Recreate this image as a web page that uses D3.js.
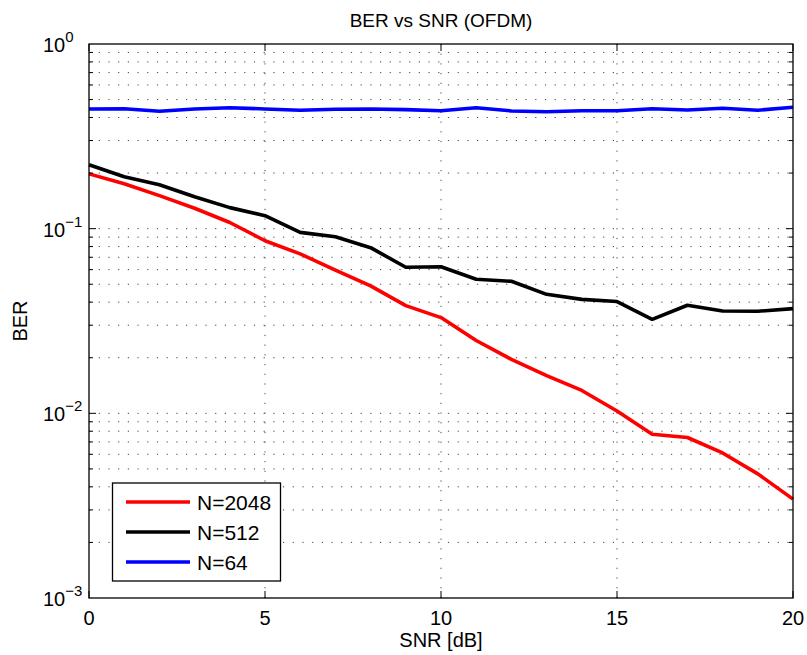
<!DOCTYPE html>
<html>
<head>
<meta charset="utf-8">
<script src="https://cdn.jsdelivr.net/npm/d3@7"></script>
<style>
  body { margin: 0; background: #fff; }
  text { font-family: "Liberation Sans", Arial, Helvetica, sans-serif; fill: #000; }
</style>
</head>
<body>
<svg id="chart" width="807" height="655"></svg>
<script>
// ---- data ----
const snr = [0,1,2,3,4,5,6,7,8,9,10,11,12,13,14,15,16,17,18,19,20];
const ber2048 = [0.198,0.175,0.151,0.129,0.108,0.086,0.073,0.0597,0.049,0.0383,0.033,0.0248,0.0196,0.0160,0.0133,0.0103,0.0077,0.0074,0.0061,0.0047,0.00343];
const ber512  = [0.222,0.191,0.173,0.149,0.130,0.1175,0.0955,0.0905,0.0789,0.0618,0.0622,0.0532,0.0519,0.0441,0.0414,0.0403,0.0323,0.0385,0.0358,0.0357,0.0369];
const ber64   = [0.445,0.446,0.432,0.445,0.452,0.445,0.438,0.443,0.445,0.441,0.435,0.452,0.434,0.430,0.435,0.435,0.446,0.439,0.449,0.438,0.454];
const seriesNames = ["N=2048","N=512","N=64"];
const seriesColors = ["#ff0000","#000000","#0000ff"];
const xTicks = [0,5,10,15,20];
const yExponents = [0,-1,-2,-3];
const titleText = "BER vs SNR (OFDM)";
const xLabel = "SNR [dB]";
const yLabel = "BER";

// ---- layout ----
const svg = d3.select("#chart");
const L = 89, R = 793, T = 44, B = 598;
const x = d3.scaleLinear().domain([0,20]).range([L,R]);
const y = d3.scaleLog().domain([1e-3,1]).range([B,T]);

// grid
const grid = svg.append("g").attr("stroke","#444").attr("stroke-width",1).attr("stroke-dasharray","1.2,8.5").attr("fill","none");
const minorVals = [];
for (let e = -3; e < 0; e++) for (let m = 1; m <= 9; m++) minorVals.push(m * Math.pow(10,e));
minorVals.filter(v => v > 1e-3).forEach(v => {
  grid.append("line").attr("x1",L).attr("x2",R).attr("y1",y(v)).attr("y2",y(v));
});
xTicks.filter(t => t > 0 && t < 20).forEach(t => {
  grid.append("line").attr("x1",x(t)).attr("x2",x(t)).attr("y1",B).attr("y2",T);
});

// series
const datasets = [ber2048, ber512, ber64];
const line = d3.line().x((d,i) => x(snr[i])).y(d => y(d));
datasets.forEach((ds,k) => {
  svg.append("path").datum(ds).attr("d",line).attr("fill","none")
    .attr("stroke",seriesColors[k]).attr("stroke-width",3.6).attr("stroke-linejoin","round");
});

// axes box and ticks
const ax = svg.append("g").attr("stroke","#000").attr("fill","none");
ax.append("rect").attr("x",L).attr("y",T).attr("width",R-L).attr("height",B-T).attr("stroke-width",1.3);
xTicks.forEach(t => {
  ax.append("line").attr("x1",x(t)).attr("x2",x(t)).attr("y1",B).attr("y2",B-7);
  ax.append("line").attr("x1",x(t)).attr("x2",x(t)).attr("y1",T).attr("y2",T+7);
});
minorVals.filter(v => v > 1e-3).forEach(v => {
  const major = Math.abs(Math.log10(v) - Math.round(Math.log10(v))) < 1e-9;
  const len = major ? 7 : 4;
  ax.append("line").attr("x1",L).attr("x2",L+len).attr("y1",y(v)).attr("y2",y(v));
  ax.append("line").attr("x1",R).attr("x2",R-len).attr("y1",y(v)).attr("y2",y(v));
});

// tick labels
xTicks.forEach(t => {
  svg.append("text").attr("x",x(t)).attr("y",B+27).attr("text-anchor","middle")
    .attr("font-size",20).text(t);
});
yExponents.forEach(e => {
  const tx = svg.append("text").attr("x",43).attr("y",y(Math.pow(10,e))+8).attr("font-size",20);
  tx.append("tspan").text("10");
  tx.append("tspan").attr("dy",-10).attr("font-size",15).text(e < 0 ? "\u2212" + Math.abs(e) : String(e));
});

// title and labels
svg.append("text").attr("x",(L+R)/2).attr("y",27).attr("text-anchor","middle").attr("font-size",19).text(titleText);
svg.append("text").attr("x",(L+R)/2).attr("y",647).attr("text-anchor","middle").attr("font-size",20).text(xLabel);
svg.append("text").attr("transform","translate(27," + ((T+B)/2) + ") rotate(-90)").attr("text-anchor","middle").attr("font-size",20).text(yLabel);

// legend
const lg = svg.append("g");
const lgX = 112.5, lgRow0 = 502, lgStep = 30;
lg.append("rect").attr("x",lgX).attr("y",lgRow0-19).attr("width",168).attr("height",2*lgStep+38)
  .attr("fill","#fff").attr("stroke","#000").attr("stroke-width",1.3);
seriesNames.forEach((n,k) => {
  const yy = lgRow0 + k*lgStep;
  lg.append("line").attr("x1",126).attr("x2",190).attr("y1",yy).attr("y2",yy)
    .attr("stroke",seriesColors[k]).attr("stroke-width",3.6);
  lg.append("text").attr("x",197).attr("y",yy+7.5).attr("font-size",21).text(n);
});
</script>
</body>
</html>
